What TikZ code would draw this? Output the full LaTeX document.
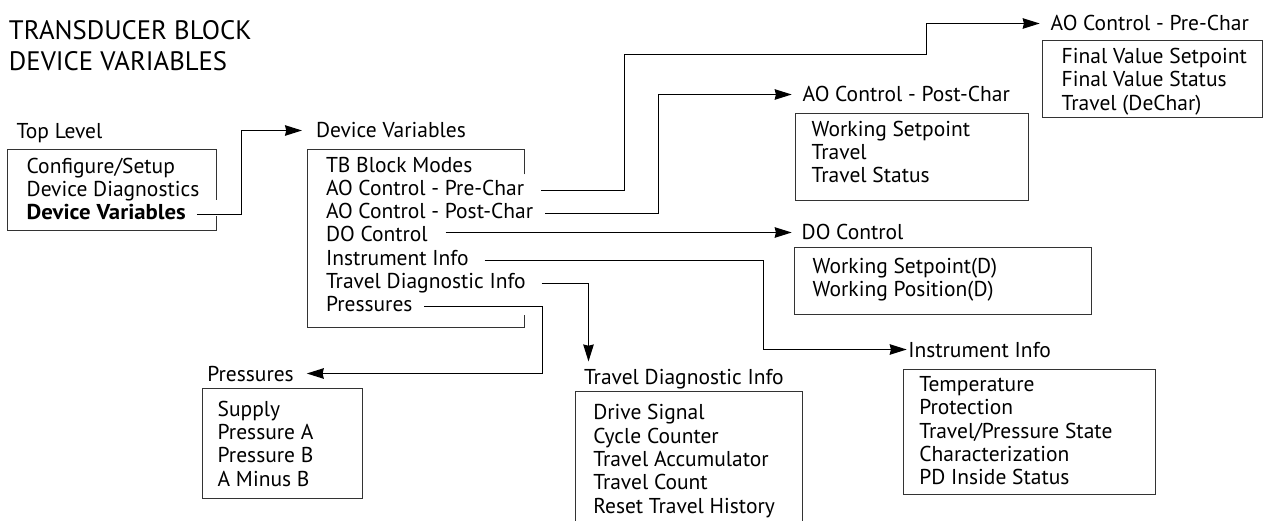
\documentclass[tikz,border=0pt]{standalone}
\usepackage{fontspec}
\setmainfont{PT Sans}
\newfontfamily\dvbold{PT Sans}[FakeStretch=1.06]
\usetikzlibrary{arrows.meta}
\tikzset{
  txt/.style={anchor=base west, inner sep=0pt, outer sep=0pt,
    font=\fontsize{21.5}{25}\selectfont, text height=11pt, text depth=0pt},
  head/.style={txt, text height=15pt},
  ttl/.style={anchor=base west, inner sep=0pt, outer sep=0pt,
    font=\fontsize{26.7}{30}\selectfont},
  boxn/.style={draw=none, inner sep=0pt, outer sep=0pt, anchor=north west},
  boxline/.style={line width=1.3pt, draw=black!80},
  conn/.style={line width=1.3pt, draw=black},
  arr/.style={conn, -{Stealth[length=17pt,width=10.5pt,inset=1.2pt]}},
}
\begin{document}
\begin{tikzpicture}[x=1pt,y=-1pt]
\useasboundingbox (0,0) rectangle (1266,521);
\fill[white] (0,0) rectangle (1266,521);

% title
\node[ttl] (title1) at (9,39.3) {TRANSDUCER BLOCK};
\node[ttl] (title2) at (9,70.7) {DEVICE VARIABLES};

% ---------- boxes ----------
\node[boxn, minimum width=209pt, minimum height=81pt]  (tlbox)     at (7.5,149.5) {};
\node[boxn, minimum width=217pt, minimum height=178pt] (dvbox)     at (307.5,149.5) {};
\node[boxn, minimum width=220pt, minimum height=77pt]  (aoprebox)  at (1042.5,40.5) {};
\node[boxn, minimum width=233pt, minimum height=87pt]  (aopostbox) at (795.5,113.5) {};
\node[boxn, minimum width=297pt, minimum height=67pt]  (dobox)     at (794.5,247.5) {};
\node[boxn, minimum width=252pt, minimum height=125pt] (instbox)   at (903.5,369.5) {};
\node[boxn, minimum width=160pt, minimum height=110pt] (presbox)   at (202.5,388.5) {};
\node[boxn, minimum width=227pt, minimum height=136pt] (tdbox)     at (575.5,391.5) {};

\draw[boxline] ([yshift=-50.5pt]tlbox.north east) -- (tlbox.north east) -- (tlbox.north west)
  -- (tlbox.south west) -- (tlbox.south east) -- ([yshift=14.5pt]tlbox.south east);
\draw[boxline] ([yshift=-25pt]dvbox.north east) -- (dvbox.north east) -- (dvbox.north west)
  -- (dvbox.south west) -- (dvbox.south east) -- ([yshift=13pt]dvbox.south east);
\draw[boxline] (aoprebox.north west) rectangle (aoprebox.south east);
\draw[boxline] (aopostbox.north west) rectangle (aopostbox.south east);
\draw[boxline] (dobox.north west) rectangle (dobox.south east);
\draw[boxline] (instbox.north west) rectangle (instbox.south east);
\draw[boxline] (presbox.north west) rectangle (presbox.south east);
\draw[boxline] (tdbox.south west) -- (tdbox.north west) -- (tdbox.north east) -- (tdbox.south east);

% ---------- Top Level ----------
\node[head] (tlh) at (16.7,139) {Top Level};
\node[txt] (tl1) at (26.7,174) {Configure/Setup};
\node[txt] (tl2) at (26.7,197) {Device Diagnostics};
\node[txt,font=\dvbold\fontsize{21.5}{25}\selectfont\bfseries] (tl3) at (26.7,220) {Device Variables};

% ---------- Device Variables ----------
\node[head] (dvh) at (316,138) {Device Variables};
\node[txt] (dv1) at (326,173) {TB Block Modes};
\node[txt] (dv2) at (326,196) {AO Control - Pre-Char};
\node[txt] (dv3) at (326,219) {AO Control - Post-Char};
\node[txt] (dv4) at (326,242) {DO Control};
\node[txt] (dv5) at (326,266) {Instrument Info};
\node[txt] (dv6) at (326,289) {Travel Diagnostic Info};
\node[txt] (dv7) at (326,312) {Pressures};

% ---------- AO Control - Pre-Char ----------
\node[head] (aopreh) at (1050.7,31) {AO Control - Pre-Char};
\node[txt] (aopre1) at (1061.7,64) {Final Value Setpoint};
\node[txt] (aopre2) at (1061.7,87) {Final Value Status};
\node[txt] (aopre3) at (1061.7,111) {Travel (DeChar)};

% ---------- AO Control - Post-Char ----------
\node[head] (aoposth) at (802.7,102) {AO Control - Post-Char};
\node[txt] (aopost1) at (811.7,137) {Working Setpoint};
\node[txt] (aopost2) at (811.7,160) {Travel};
\node[txt] (aopost3) at (811.7,183) {Travel Status};

% ---------- DO Control ----------
\node[head] (doh) at (801.7,240) {DO Control};
\node[txt] (do1) at (812.7,274) {Working Setpoint(D)};
\node[txt] (do2) at (812.7,297) {Working Position(D)};

% ---------- Instrument Info ----------
\node[head] (insth) at (908.3,357) {Instrument Info};
\node[txt] (inst1) at (919.3,391) {Temperature};
\node[txt] (inst2) at (919.3,414) {Protection};
\node[txt] (inst3) at (919.3,438) {Travel/Pressure State};
\node[txt] (inst4) at (919.3,461) {Characterization};
\node[txt] (inst5) at (919.3,484) {PD Inside Status};

% ---------- Pressures ----------
\node[head] (presh) at (207.3,381) {Pressures};
\node[txt] (pres1) at (217.7,416) {Supply};
\node[txt] (pres2) at (217.7,439) {Pressure A};
\node[txt] (pres3) at (217.7,462) {Pressure B};
\node[txt] (pres4) at (217.7,486) {A Minus B};

% ---------- Travel Diagnostic Info ----------
\node[head] (tdh) at (584,384) {Travel Diagnostic Info};
\node[txt] (td1) at (593.3,419) {Drive Signal};
\node[txt] (td2) at (593.3,443) {Cycle Counter};
\node[txt] (td3) at (593.3,466) {Travel Accumulator};
\node[txt] (td4) at (593.3,489) {Travel Count};
\node[txt] (td5) at (593.3,513) {Reset Travel History};

% ---------- bend points ----------
\coordinate (k1) at (241.5,0);
\coordinate (k2) at (624.5,54.5);
\coordinate (k2b) at (926.5,54.5);
\coordinate (k3) at (658.5,0);
\coordinate (k5) at (763.5,0);
\coordinate (k6) at (588.5,0);
\coordinate (k7) at (542.5,0);
\coordinate (s4) at ([xshift=18pt]dv4.east);

% ---------- connectors ----------
\draw[arr] ([xshift=11pt]tl3.east) -| (k1 |- dvh.west) -- ([xshift=-14pt]dvh.west);
\draw[arr] ([xshift=17pt]dv2.east) -| (k2) -| (k2b |- aopreh.west) -- ([xshift=-11pt]aopreh.west);
\draw[arr] ([xshift=12pt]dv3.east) -| (k3 |- aoposth.west) -- ([xshift=-11pt]aoposth.west);
\draw[arr] (s4 |- doh.west) -- ([xshift=-10pt]doh.west);
\draw[arr] ([xshift=16pt]dv5.east) -| (k5 |- insth.west) -- ([xshift=-1.6pt]insth.west);
\draw[arr, shorten >=7.5pt] ([xshift=16pt]dv6.east) -| (k6 |- tdh.north);
\draw[arr] ([xshift=12pt]dv7.east) -| (k7 |- presh.east) -- ([xshift=13pt]presh.east);
\end{tikzpicture}
\end{document}
